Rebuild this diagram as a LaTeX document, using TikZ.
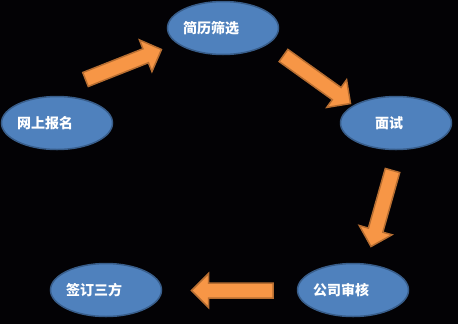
\documentclass[tikz,border=0pt]{standalone}
\usepackage{fontspec}
\newfontfamily\cjk{Noto Sans CJK SC}
\usetikzlibrary{shapes.geometric,calc}
\definecolor{bgcol}{HTML}{030205}
\definecolor{stagefill}{HTML}{4F81BD}
\definecolor{stageline}{HTML}{385D8A}
\definecolor{arrfill}{HTML}{F79646}
\definecolor{arrline}{HTML}{B66D31}
\tikzset{
  stage/.style={ellipse, fill=stagefill, draw=stageline, line width=1.5bp,
    minimum width=111bp, minimum height=53bp, inner sep=0pt,
    text=white, font=\cjk\bfseries\fontsize{14bp}{14bp}\selectfont},
  blockarr/.style={fill=arrfill, draw=arrline, line width=1.5bp, line join=miter}
}
\newcommand\blockarrow[2]{%
  \coordinate (hb) at ($(#2)!17bp!(#1)$);
  \filldraw[blockarr] ($(#1)!7.5bp!90:(#2)$) -- ($(hb)!7.5bp!90:(#2)$)
    -- ($(hb)!17bp!90:(#2)$) -- (#2) -- ($(hb)!17bp!-90:(#2)$)
    -- ($(hb)!7.5bp!-90:(#2)$) -- ($(#1)!7.5bp!-90:(#2)$) -- cycle;}
\begin{document}
\begin{tikzpicture}[x=1bp, y=-1bp]
\fill[bgcol] (0,0) rectangle (458,324);
\useasboundingbox (0,0) rectangle (458,324);
\node[stage] (jl) at (223,28) {\hspace*{-24bp}简历筛选};
\node[stage] (bm) at (57,123) {\hspace*{-24bp}网上报名};
\node[stage] (ms) at (396,123) {\hspace*{-14bp}面试};
\node[stage] (sh) at (353,290) {\hspace*{-24bp}公司审核};
\node[stage] (qd) at (106,290) {\hspace*{-24bp}签订三方};
\coordinate (a1t) at (85.5,79.5);  \coordinate (a1h) at (161.5,49.5);
\coordinate (a2t) at (283.5,55.5); \coordinate (a2h) at (350.5,103.5);
\coordinate (a3t) at (392.5,170.5);\coordinate (a3h) at (371,246.5);
\coordinate (a4t) at (273,290.5);  \coordinate (a4h) at (191.5,290.5);
\blockarrow{a1t}{a1h}
\blockarrow{a2t}{a2h}
\blockarrow{a3t}{a3h}
\blockarrow{a4t}{a4h}
\end{tikzpicture}
\end{document}
